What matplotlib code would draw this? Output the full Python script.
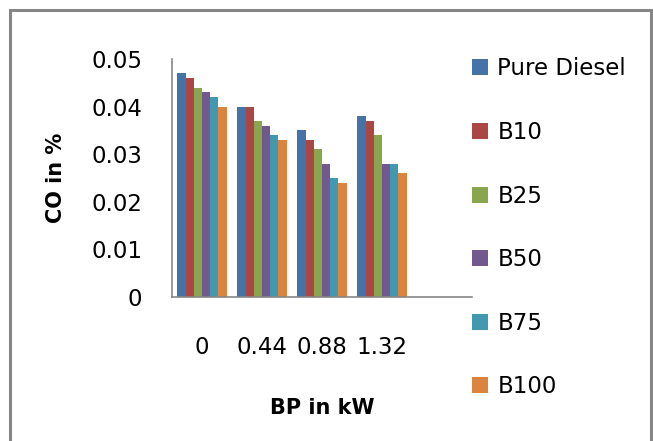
import numpy as np
import matplotlib.pyplot as plt
from matplotlib.patches import Rectangle

# BP load steps (kW); the fifth slot on the axis is left empty
loads = ["0", "0.44", "0.88", "1.32"]
n_slots = 5

fuels = ["Pure Diesel", "B10", "B25", "B50", "B75", "B100"]
pure_diesel = [0.047, 0.040, 0.035, 0.038]
b10 = [0.046, 0.040, 0.033, 0.037]
b25 = [0.044, 0.037, 0.031, 0.034]
b50 = [0.043, 0.036, 0.028, 0.028]
b75 = [0.042, 0.034, 0.025, 0.028]
b100 = [0.040, 0.033, 0.024, 0.026]
series = [pure_diesel, b10, b25, b50, b75, b100]

colors = ["#4572A7", "#AA4643", "#89A54E", "#71588F", "#4198AF", "#DB843D"]

fig = plt.figure(figsize=(6.53, 4.41), dpi=100)
ax = fig.add_axes([0.2634, 0.3265, 0.4594, 0.5397])

x = np.arange(len(loads))
group_w = 0.82
bar_w = group_w / len(series)
for k, (vals, name, col) in enumerate(zip(series, fuels, colors)):
    offs = -group_w / 2 + bar_w * (k + 0.5)
    ax.bar(x + offs, vals, width=bar_w, color=col, label=name, linewidth=0)

ax.set_xlim(-0.5, n_slots - 0.5)
ax.set_ylim(0, 0.05)
ax.set_yticks([0, 0.01, 0.02, 0.03, 0.04, 0.05])
ax.set_yticklabels(["0", "0.01", "0.02", "0.03", "0.04", "0.05"])
ax.set_xticks(x)
ax.set_xticklabels(loads)
ax.tick_params(axis="y", length=0, pad=21.5, labelsize=16.5)
ax.tick_params(axis="x", length=0, pad=28, labelsize=16.5)

for side in ["top", "right"]:
    ax.spines[side].set_visible(False)
for side in ["left", "bottom"]:
    ax.spines[side].set_color("#868686")
    ax.spines[side].set_linewidth(1.2)

ax.set_ylabel("CO in %", fontsize=15, fontweight="bold", labelpad=18)
ax.set_xlabel("BP in kW", fontsize=15, fontweight="bold", labelpad=28)

ax.legend(
    loc="upper left", bbox_to_anchor=(0.97, 1.045), frameon=False,
    fontsize=16.5, handlelength=0.7, handleheight=0.7, handletextpad=0.4,
    labelspacing=1.77, borderaxespad=0.0,
)

# outer chart-area frame
fig.patches.append(Rectangle(
    (10 / 653, -0.05), 641 / 653, 1.05 - 10 / 441,
    transform=fig.transFigure, fill=False, edgecolor="#868686", linewidth=2.2,
))

fig.savefig("out.png", dpi=100)
